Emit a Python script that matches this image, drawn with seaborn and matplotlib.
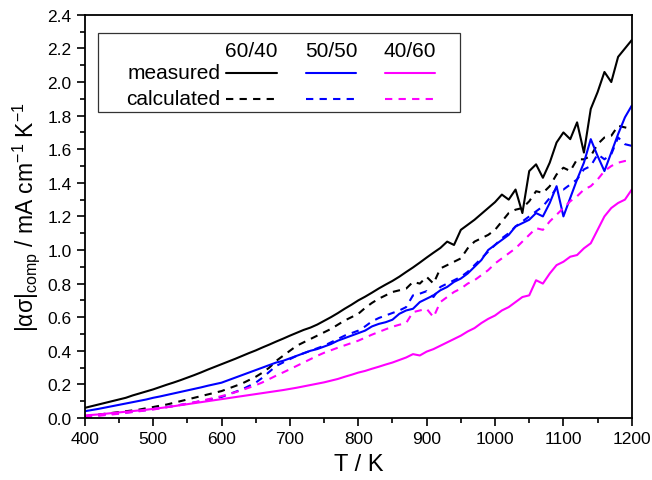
import matplotlib
matplotlib.use("Agg")
import matplotlib.pyplot as plt
from matplotlib.lines import Line2D
from matplotlib.patches import Rectangle
from matplotlib.ticker import MultipleLocator, FormatStrFormatter
import pandas as pd
import seaborn as sns

# Temperature grid (K)
temperature = list(range(400, 1201, 10))

compositions = ["60/40", "50/50", "40/60"]
kinds = ["measured", "calculated"]

# |alpha sigma|_comp in mA cm^-1 K^-1
measured_6040 = [
    0.060, 0.070, 0.080, 0.090, 0.100, 0.110, 0.120, 0.134, 0.146, 0.158,
    0.170, 0.184, 0.198, 0.211, 0.225, 0.240, 0.255, 0.271, 0.288, 0.304,
    0.320, 0.336, 0.352, 0.369, 0.386, 0.402, 0.420, 0.437, 0.455, 0.472,
    0.490, 0.507, 0.524, 0.538, 0.556, 0.578, 0.600, 0.624, 0.650, 0.674,
    0.700, 0.722, 0.746, 0.771, 0.794, 0.816, 0.841, 0.869, 0.896, 0.925,
    0.955, 0.984, 1.012, 1.050, 1.030, 1.120, 1.150, 1.180, 1.215, 1.250,
    1.285, 1.330, 1.300, 1.360, 1.220, 1.470, 1.510, 1.430, 1.520, 1.640,
    1.700, 1.660, 1.760, 1.580, 1.840, 1.940, 2.060, 2.000, 2.150, 2.200,
    2.250,
]
calculated_6040 = [
    0.010, 0.015, 0.020, 0.025, 0.030, 0.035, 0.040, 0.045, 0.050, 0.058,
    0.065, 0.073, 0.080, 0.090, 0.100, 0.110, 0.120, 0.130, 0.140, 0.150,
    0.160, 0.175, 0.190, 0.205, 0.225, 0.245, 0.270, 0.300, 0.340, 0.370,
    0.400, 0.430, 0.450, 0.470, 0.490, 0.510, 0.530, 0.555, 0.580, 0.600,
    0.620, 0.655, 0.685, 0.710, 0.730, 0.750, 0.760, 0.770, 0.810, 0.800,
    0.840, 0.800, 0.890, 0.910, 0.930, 0.950, 1.010, 1.050, 1.070, 1.090,
    1.120, 1.170, 1.220, 1.240, 1.250, 1.290, 1.350, 1.340, 1.380, 1.450,
    1.490, 1.470, 1.540, 1.540, 1.560, 1.630, 1.670, 1.680, 1.740, 1.730,
    1.720,
]
measured_5050 = [
    0.040, 0.047, 0.054, 0.062, 0.070, 0.078, 0.086, 0.094, 0.102, 0.110,
    0.120, 0.128, 0.137, 0.146, 0.155, 0.164, 0.173, 0.182, 0.192, 0.201,
    0.210, 0.225, 0.240, 0.255, 0.270, 0.285, 0.300, 0.315, 0.330, 0.340,
    0.355, 0.370, 0.385, 0.400, 0.410, 0.425, 0.440, 0.460, 0.475, 0.490,
    0.505, 0.520, 0.545, 0.560, 0.570, 0.585, 0.620, 0.640, 0.650, 0.690,
    0.710, 0.730, 0.760, 0.780, 0.810, 0.830, 0.860, 0.900, 0.940, 1.000,
    1.030, 1.060, 1.090, 1.140, 1.160, 1.180, 1.220, 1.200, 1.280, 1.380,
    1.200, 1.310, 1.420, 1.520, 1.660, 1.560, 1.470, 1.580, 1.690, 1.790,
    1.860,
]
calculated_5050 = [
    0.010, 0.013, 0.016, 0.020, 0.024, 0.028, 0.032, 0.037, 0.042, 0.047,
    0.053, 0.059, 0.065, 0.071, 0.078, 0.085, 0.092, 0.100, 0.108, 0.116,
    0.125, 0.140, 0.155, 0.170, 0.190, 0.210, 0.240, 0.275, 0.310, 0.330,
    0.350, 0.370, 0.385, 0.400, 0.415, 0.430, 0.450, 0.470, 0.490, 0.505,
    0.520, 0.545, 0.575, 0.595, 0.610, 0.625, 0.640, 0.660, 0.730, 0.740,
    0.755, 0.720, 0.780, 0.800, 0.820, 0.840, 0.870, 0.910, 0.950, 0.990,
    1.030, 1.070, 1.100, 1.140, 1.170, 1.200, 1.230, 1.260, 1.310, 1.370,
    1.360, 1.390, 1.420, 1.480, 1.500, 1.570, 1.540, 1.570, 1.670, 1.630,
    1.620,
]
measured_4060 = [
    0.015, 0.018, 0.021, 0.025, 0.029, 0.033, 0.037, 0.041, 0.045, 0.049,
    0.054, 0.059, 0.064, 0.070, 0.076, 0.082, 0.088, 0.094, 0.100, 0.106,
    0.112, 0.118, 0.124, 0.130, 0.136, 0.142, 0.148, 0.154, 0.160, 0.166,
    0.173, 0.180, 0.188, 0.196, 0.204, 0.212, 0.222, 0.232, 0.245, 0.257,
    0.270, 0.280, 0.293, 0.305, 0.318, 0.330, 0.345, 0.360, 0.380, 0.372,
    0.395, 0.410, 0.430, 0.450, 0.470, 0.490, 0.515, 0.535, 0.565, 0.590,
    0.610, 0.640, 0.660, 0.690, 0.720, 0.730, 0.820, 0.800, 0.860, 0.910,
    0.930, 0.960, 0.970, 1.010, 1.040, 1.120, 1.200, 1.250, 1.280, 1.300,
    1.360,
]
calculated_4060 = [
    0.005, 0.009, 0.013, 0.017, 0.021, 0.025, 0.030, 0.035, 0.040, 0.045,
    0.050, 0.057, 0.064, 0.071, 0.078, 0.085, 0.093, 0.102, 0.111, 0.120,
    0.130, 0.141, 0.153, 0.166, 0.180, 0.195, 0.212, 0.232, 0.252, 0.271,
    0.290, 0.310, 0.330, 0.350, 0.370, 0.388, 0.403, 0.418, 0.432, 0.446,
    0.460, 0.478, 0.496, 0.512, 0.528, 0.543, 0.555, 0.565, 0.630, 0.640,
    0.650, 0.600, 0.690, 0.720, 0.750, 0.770, 0.800, 0.820, 0.850, 0.880,
    0.920, 0.950, 0.980, 1.010, 1.050, 1.090, 1.130, 1.120, 1.170, 1.210,
    1.250, 1.290, 1.320, 1.360, 1.380, 1.420, 1.470, 1.500, 1.520, 1.530,
    1.530,
]

colors = {"60/40": "#000000", "50/50": "#0000ff", "40/60": "#ff00ff"}
line_dashes = {"measured": "", "calculated": (3.5, 3.0)}

series = [
    ("60/40", measured_6040, calculated_6040),
    ("50/50", measured_5050, calculated_5050),
    ("40/60", measured_4060, calculated_4060),
]
frames = []
for comp, meas, calc in series:
    frames.append(pd.DataFrame({"T": temperature, "value": meas,
                                "composition": comp, "kind": "measured"}))
    frames.append(pd.DataFrame({"T": temperature, "value": calc,
                                "composition": comp, "kind": "calculated"}))
df = pd.concat(frames, ignore_index=True)

sns.set_style("ticks")
plt.rcParams["font.family"] = ["Liberation Sans", "DejaVu Sans"]
plt.rcParams["text.color"] = "black"
plt.rcParams["axes.labelcolor"] = "black"
plt.rcParams["mathtext.fontset"] = "custom"
plt.rcParams["mathtext.rm"] = "Liberation Sans"
plt.rcParams["mathtext.it"] = "Liberation Sans"
plt.rcParams["mathtext.bf"] = "Liberation Sans:bold"

fig = plt.figure(figsize=(6.52, 4.81), dpi=100)
ax = fig.add_axes([0.130, 0.129, 0.839, 0.838])

sns.lineplot(data=df, x="T", y="value", hue="composition", style="kind",
             hue_order=compositions, style_order=kinds, palette=colors,
             dashes=line_dashes, linewidth=1.5, estimator=None, sort=False,
             legend=False, ax=ax)

ax.set_xlim(400, 1200)
ax.set_ylim(0, 2.4)
ax.xaxis.set_major_locator(MultipleLocator(100))
ax.xaxis.set_minor_locator(MultipleLocator(50))
ax.yaxis.set_major_locator(MultipleLocator(0.2))
ax.yaxis.set_minor_locator(MultipleLocator(0.1))
ax.yaxis.set_major_formatter(FormatStrFormatter("%.1f"))
ax.tick_params(which="major", direction="out", length=6, width=1.2,
               labelsize=12.5, color="black", labelcolor="black",
               top=False, right=False)
ax.tick_params(which="minor", direction="out", length=3.5, width=1.2,
               color="black", top=False, right=False)
for side in ["left", "right", "top", "bottom"]:
    ax.spines[side].set_visible(True)
    ax.spines[side].set_color("black")
    ax.spines[side].set_linewidth(1.3)

ax.set_xlabel("T / K", fontsize=17, labelpad=5, color="black")
ax.set_ylabel(r"|ασ|$_{\mathrm{comp}}$ / mA cm$^{\mathrm{-1}}$ K$^{\mathrm{-1}}$",
              fontsize=16.5, labelpad=4, color="black")

# Composite legend: composition columns x measured / calculated rows
tr = ax.transAxes
ax.add_patch(Rectangle((0.024, 0.759), 0.662, 0.196, transform=tr,
                       facecolor="white", edgecolor="#333333", linewidth=0.9,
                       zorder=5))
col_centers = [0.305, 0.4505, 0.594]
for comp, xc in zip(compositions, col_centers):
    ax.text(xc, 0.912, comp, transform=tr, ha="center", va="center",
            fontsize=15, color="black", zorder=6)
row_y = {"measured": 0.857, "calculated": 0.792}
for kind in kinds:
    ax.text(0.248, row_y[kind], kind, transform=tr, ha="right",
            va="center", fontsize=15, color="black", zorder=6)
    for comp, xc in zip(compositions, col_centers):
        ln = Line2D([xc - 0.046, xc + 0.046], [row_y[kind], row_y[kind]],
                    transform=tr, color=colors[comp], linewidth=1.5, zorder=6)
        if kind == "calculated":
            ln.set_dashes((3.5, 3.0))
        ax.add_line(ln)

fig.savefig("out.png", dpi=100)
